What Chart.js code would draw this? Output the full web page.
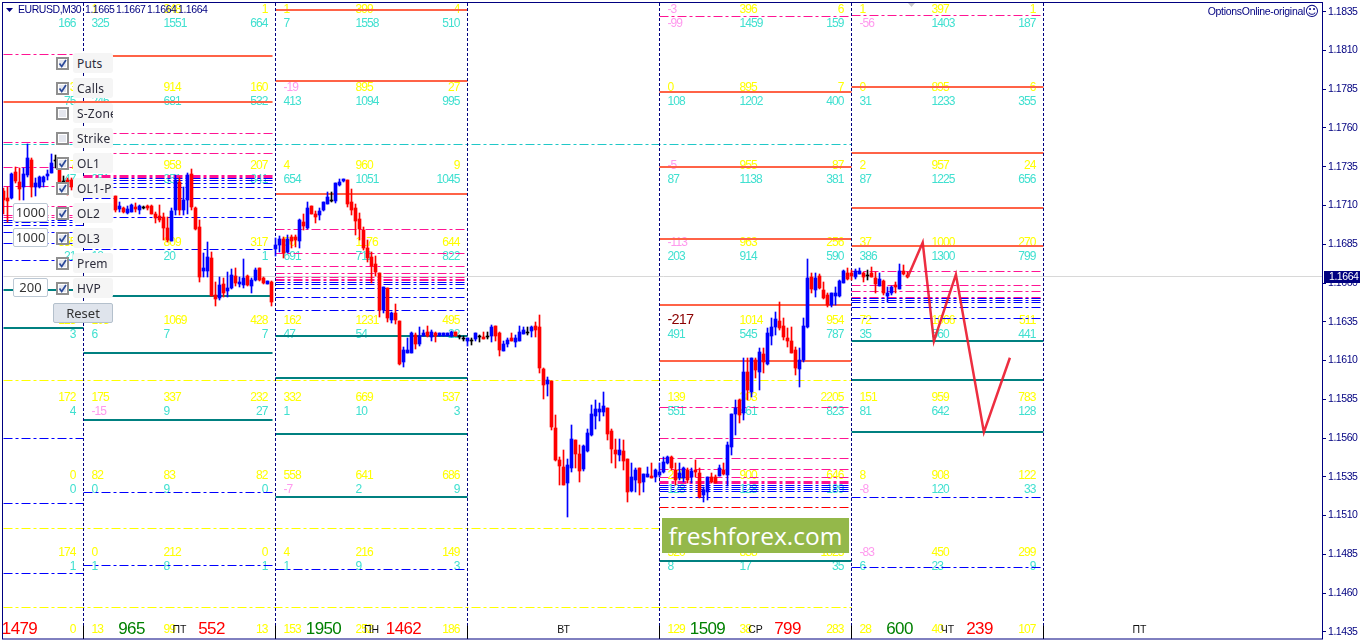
<!DOCTYPE html>
<html><head><meta charset="utf-8">
<script src="https://cdn.jsdelivr.net/npm/chart.js@4"></script>
<style>
html,body{margin:0;padding:0;background:#fff;overflow:hidden}
#wrap{position:relative;width:1364px;height:640px}
canvas{display:block;position:absolute;left:0;top:0}
.lab{position:absolute;left:73px;width:40px;height:20px;background:#f5f5f5;border-radius:3px;overflow:hidden;white-space:nowrap;font:12px "Noto Sans",sans-serif;color:#2b2b3a;line-height:21px;text-indent:4px;letter-spacing:.2px}
.chk{position:absolute;left:56px;width:9px;height:9px;border:2px solid #8f8f8f;background:#e4e6ee;box-shadow:inset 0 0 0 1px #fff}
.chk svg{position:absolute;left:0;top:0}
.inp{position:absolute;left:13px;width:33px;height:17px;border:1px solid #bcc8d4;border-radius:2px;background:#fff;font:13px "Noto Sans",sans-serif;color:#333;line-height:17px;text-align:center}
#reset{position:absolute;left:53px;top:303px;width:58px;height:18px;border:1px solid #b4c0cc;border-radius:2px;background:#dfe4ec;font:13px "Noto Sans",sans-serif;color:#333;line-height:18px;text-align:center}
#ff{position:absolute;left:662px;top:518px;width:187px;height:35px;background:#94b84a;color:#fff;font:24.5px "Open Sans",sans-serif;line-height:35px;text-align:center}
</style></head><body>
<div id="wrap"><canvas id="c" width="1364" height="640"></canvas><div id="panel"></div><div id="ff">freshforex.com</div></div>
<script>
// Prices are written as points above 1.00000 (17190 = 1.17190)
const firstBar=-20;
const opens=[17190,17145,17145,17313,17249,17216,17293,17390,17216,17216,17249,17287,17306,17390,17326,17255,17261,17261,
null,null,null,null,null,null,null,null,null,null,
17158,17074,17081,17048,17055,17087,17068,17087,17093,17093,17042,17029,17023,16952,16868,17068,17249,17068,17132,17300,17081,16958,16674,16674,16758,16519,16500,16590,16545,16565,16642,16590,16584,16642,16577,16616,16694,16629,16590,16603,
16816,16842,16881,16797,16894,16894,16868,16990,16952,17093,17042,17035,17068,17106,17132,17126,17229,17255,17261,17119,17081,17010,16939,16823,16765,16720,16661,16423,16565,16358,16403,16352,16088,16145,16145,16261,16203,16255,16281,16249,16274,16255,16255,16255,16255,16281,16255,16242,
16223,16229,16236,16255,16249,16255,16255,16319,16274,16158,16203,16242,16216,16223,16268,16281,16287,16319,16313,16042,15945,15965,15662,15455,15410,15307,15403,15584,15494,15397,15513,15617,15739,15765,15765,15791,15642,15520,15488,15513,15462,15255,15326,15404,15313,15346,15352,15346,
15359,15378,15436,15474,15391,15339,15339,15391,15346,15391,15371,15230,15249,15346,15346,15352,15391,15359,15539,15752,15842,15758,16023,15894,16100,16023,16139,16074,16255,16313,16352,16319,16242,16223,16165,16042,16100,16313,16636,16552,16642,16552,16519,16455,16513,16513,16597,16661,
16661,16636,16655,16661,16649,16661,16629,16577,16610,16513,16532,16584,16558,16674,16649];
const closes=[17132,17126,17300,17255,17203,17300,17403,17216,17242,17281,17281,17300,17371,17390,17249,17255,17235,17216,
null,null,null,null,null,null,null,null,null,null,
17068,17093,17055,17074,17100,17074,17093,17087,17081,17042,17016,17003,16952,16874,17061,17261,17068,17132,17293,17087,16945,16636,16694,16765,16513,16494,16584,16532,16565,16649,16597,16603,16629,16584,16616,16681,16616,16597,16610,16474,
16842,16881,16790,16881,16868,16874,17003,16965,17081,17042,17023,17061,17119,17152,17132,17242,17249,17268,17106,17068,16997,16945,16823,16758,16707,16668,16423,16571,16371,16403,16358,16074,16165,16165,16274,16203,16255,16274,16255,16281,16255,16274,16274,16274,16281,16255,16255,16242,
16242,16229,16274,16255,16236,16255,16313,16255,16165,16203,16229,16223,16242,16281,16294,16281,16313,16294,16049,15939,15971,15668,15455,15416,15294,15423,15590,15494,15384,15546,15630,15752,15784,15784,15804,15623,15526,15494,15520,15449,15249,15346,15391,15307,15365,15365,15339,15391,
15378,15442,15474,15404,15326,15371,15404,15326,15384,15378,15217,15262,15346,15313,15307,15404,15365,15552,15752,15791,15745,16023,15907,16113,16036,16152,16088,16274,16313,16365,16306,16249,16223,16145,16049,16100,16319,16629,16558,16629,16565,16500,16455,16532,16532,16610,16674,16623,
16642,16674,16674,16636,16649,16636,16590,16623,16532,16532,16571,16571,16674,16655,16636];
const highs=[17210,17216,17306,17345,17339,17339,17493,17403,17274,17287,17287,17326,17429,17423,17339,17287,17274,17274,
null,null,null,null,null,null,null,null,null,null,
17158,17119,17087,17093,17106,17113,17100,17093,17100,17100,17055,17100,17048,17023,17081,17293,17281,17216,17306,17332,17087,17003,16790,16861,16797,16603,16636,16629,16668,16687,16694,16636,16752,16649,16629,16694,16694,16636,16610,16610,
16887,16900,16894,16907,16907,16907,17010,17042,17119,17093,17061,17081,17119,17184,17184,17242,17268,17268,17261,17203,17106,17048,16958,16874,16797,16771,16661,16571,16565,16410,16461,16352,16184,16242,16281,16274,16313,16294,16319,16294,16281,16274,16274,16274,16287,16281,16261,16255,
16242,16242,16274,16261,16281,16281,16326,16319,16281,16223,16242,16274,16261,16319,16313,16313,16319,16345,16390,16049,15990,15965,15745,15474,15520,15462,15681,15584,15552,15552,15655,15810,15842,15823,15894,15791,15655,15591,15591,15584,15462,15436,15404,15404,15365,15410,15436,15397,
15436,15474,15481,15481,15436,15436,15410,15404,15404,15455,15404,15281,15346,15371,15359,15423,15436,15571,15752,15842,15849,16113,16113,16113,16113,16178,16178,16306,16371,16410,16474,16371,16306,16313,16184,16178,16371,16752,16661,16661,16655,16603,16532,16532,16571,16616,16681,16694,
16681,16687,16694,16668,16681,16700,16668,16661,16616,16571,16577,16603,16719,16713,16668];
const lows=[17042,16990,17139,17242,17132,17132,17281,17152,17158,17210,17216,17261,17306,17339,17223,17223,17165,17197,
null,null,null,null,null,null,null,null,null,null,
17055,17055,17048,17042,17055,17055,17042,17074,17068,17042,16984,16990,16874,16861,16868,17035,17035,17035,17042,17068,16939,16603,16636,16636,16513,16448,16487,16506,16506,16558,16577,16571,16565,16577,16532,16610,16610,16590,16590,16448,
16771,16797,16758,16790,16823,16829,16823,16939,16945,17042,16984,17003,17061,17106,17119,17113,17223,17249,17087,17035,16907,16874,16810,16732,16597,16642,16377,16403,16345,16339,16332,16068,16055,16145,16145,16171,16190,16255,16249,16223,16216,16255,16255,16255,16249,16255,16236,16223,
16190,16197,16223,16216,16236,16236,16216,16223,16126,16158,16184,16223,16184,16223,16268,16261,16249,16249,16016,15849,15868,15649,15449,15294,15294,15088,15378,15403,15313,15384,15507,15610,15655,15707,15739,15584,15436,15403,15449,15391,15184,15249,15249,15230,15249,15346,15339,15313,
15346,15371,15429,15391,15294,15326,15313,15307,15307,15346,15210,15184,15197,15307,15307,15352,15359,15288,15488,15617,15694,15713,15842,15861,15984,15907,16016,16068,16197,16261,16294,16229,16184,16145,16003,15926,16088,16306,16532,16506,16558,16494,16442,16442,16455,16506,16597,16616,
16616,16623,16655,16603,16616,16636,16532,16577,16519,16474,16519,16532,16558,16649,16629];

const dayStartBars=[-48,0,48,96,144,192,240];
const dayNames=["","ПТ","ПН","ВТ","СР","ЧТ","ПТ"];
const weekBottomYellow=[["","","0"],["13","99","13"],["153","252","186"],null,["129","38","283"],["28","40","107"],null];
const greenTotals=["","965","1950","","1509","600",""];
const redTotals=["1479","552","1462","","799","239",""];

const orangeLevels=[[0,17767],[1,18064],[1,17767],[2,18361],[2,17903],[2,17174],[4,17832],[4,17348],[4,16883],[4,16458],[4,16097],[5,17864],[5,17438],[5,17083],[5,16838]];
const tealLevels=[[0,16555],[0,16309],[1,16518],[1,16148],[1,15716],[2,16258],[2,15990],[2,15626],[2,15219],[4,14807],[5,16226],[5,15974],[5,15639]];
const pinkLevels=[[0,18074],[0,17509],[0,17345],[0,17222],[0,17093],[0,17035],[0,17022],[1,17564],[1,17435],[1,17293],[1,17287],[1,17280],[2,16942],[2,16790],[2,16708],[2,16661],[2,16637],[2,16622],[2,16616],[4,18317],[4,15800],[4,15600],[4,15471],[4,15400],[4,15348],[4,15319],[4,15313],[4,15307],[5,18328],[5,16671],[5,16587],[5,16542],[5,16508],[5,16502]];
const blueLevels=[[0,17003],[0,16990],[0,16971],[0,16926],[0,16855],[0,16745],[0,15597],[0,15178],[0,14726],[1,17274],[1,17261],[1,17242],[1,17213],[1,17145],[1,17022],[1,16816],[1,15249],[1,14775],[2,16603],[2,16590],[2,16564],[2,16508],[2,16422],[2,14755],[4,15294],[4,15281],[4,15268],[4,15255],[4,15219],[5,16497],[5,16487],[5,16474],[5,16442],[5,16368],[5,15215],[5,14762]];
const redLevels=[[4,15149]];
const yellowLongLevels=[[192,15968],[144,15016],[192,14507]];
const cyanLongLevels=[[192,17496]];
const currentPrice=16640;
const dayLineBars=[0,48,96,144,192,240];
const forecastBars=[206.1,209.8,212.6,218.1,225.1,231.6];
const forecastPrices=[16640,16861,16225,16655,15638,16118];

const strikes=[1.1835,1.1785,1.1735,1.1685,1.1635,1.1585,1.1535,1.1485];
const tickValues=[1.1835,1.1810,1.1785,1.1760,1.1735,1.1710,1.1685,1.1660,1.1635,1.1610,1.1585,1.1560,1.1535,1.1510,1.1485,1.1460,1.1435];

const yellowD0=[["","",""],["","","3"],["","","7"],["","","355"],["","","125"],["","","172"],["","","0"],["","","174"]];
const cyanD0=[["","","166"],["","","75"],["","","47"],["","","21"],["","","3"],["","","4"],["","","0"],["","","1"]];
const yellowD1=[["1","348","1"],["3","914","160"],["7","958","207"],["105","809","317"],["105","1069","428"],["175","337","232"],["82","83","82"],["0","212","0"]];
const cyanD1=[["325","1551","664"],["246","681","532"],["351","351","841"],["18","20","1"],["6","7","7"],["-15","9","27"],["0","9","0"],["1","8","1"]];
const yellowD2=[["1","399","4"],["-19","895","27"],["4","960","9"],["50","1176","644"],["162","1231","495"],["332","669","537"],["558","641","686"],["4","216","149"]];
const cyanD2=[["7","1558","510"],["413","1094","995"],["654","1051","1045"],["691","711","822"],["47","54","22"],["1","10","3"],["-7","2","9"],["1","9","3"]];
const yellowD4=[["-3","396","6"],["0","895","7"],["-5","955","87"],["-113","963","256"],["","1014","954"],["139","303","2205"],["258","900","646"],["320","838","1823"]];
const cyanD4=[["-99","1459","159"],["108","1202","400"],["87","1138","381"],["203","914","590"],["491","545","787"],["551","461","823"],["128","128","189"],["8","17","35"]];
const yellowD5=[["1","397","1"],["0","895","6"],["2","957","24"],["37","1000","270"],["72","1066","511"],["151","959","783"],["8","908","122"],["-83","450","299"]];
const cyanD5=[["-56","1403","187"],["31","1233","355"],["87","1225","656"],["386","1300","799"],["35","560","441"],["81","642","128"],["-8","120","33"],["6","23","9"]];
const panelNames=["Puts","Calls","S-Zone","Strike","OL1","OL1-P","OL2","OL3","Prem","HVP"];
const panelChecked=[1,1,0,0,1,1,1,1,1,1];
const panelInputs=["1000","1000","200"];
const headerText=["EURUSD,M30","1.1665","1.1667","1.1664","1.1664"];

const P=v=>1+v/1e5;
const NAVY="#000080";

const panel=document.getElementById("panel");
let html="";
panelNames.forEach((n,i)=>{
  const top=53+25*i;
  html+=`<div class="chk" style="top:${top+4}px">${panelChecked[i]?'<svg width="9" height="9"><path d="M1.5 4.5 L3.7 7.5 L8 1" stroke="#2c4a9a" stroke-width="1.7" fill="none"/></svg>':''}</div><div class="lab" style="top:${top}px">${n}</div>`;
});
[203,228,278].forEach((t,i)=>{html+=`<div class="inp" style="top:${t}px">${panelInputs[i]}</div>`});
html+='<div id="reset">Reset</div>';
panel.innerHTML=html;

const bars=[],wicks=[],cols=[];
opens.forEach((o,i)=>{
  if(o===null)return;
  const x=firstBar+i,c=closes[i];
  bars.push({x,y:[P(o),P(c)]});
  wicks.push({x,y:[P(lows[i]),P(highs[i])]});
  cols.push(c>o?"#0000ff":c<o?"#ff0000":"#000000");
});
function segs(levels,trim){
  const out=[];
  levels.forEach(([d,v])=>{
    const s=Math.max(dayStartBars[d],firstBar);
    const e=dayStartBars[d]+((trim&&d===1)?47.25:48);
    out.push({x:s,y:P(v)},{x:e,y:P(v)},{x:e,y:null});
  });
  return out;
}
function longSegs(levels){
  const out=[];
  levels.forEach(([e,v])=>out.push({x:firstBar,y:P(v)},{x:e,y:P(v)},{x:e,y:null}));
  return out;
}
const lineDs=(data,color,width,dash,snap,order)=>({type:"line",data,borderColor:color,borderWidth:width,borderDash:dash,pointRadius:0,spanGaps:false,tension:0,snap,order,borderCapStyle:"butt",borderJoinStyle:"miter"});
const DD=[9,3,3,3];
const yMax=1.18406,yMin=1.143038;
const vertData=[],vertSolid=[];
dayLineBars.forEach(b=>{
  vertData.push({x:b,y:yMax},{x:b,y:P(14391)},{x:b,y:null});
  vertSolid.push({x:b,y:P(14391)},{x:b,y:yMin},{x:b,y:null});
});

const textPlugin={id:"texts",
 beforeDatasetsDraw(ch){
  const ctx=ch.ctx,xs=ch.scales.x,ys=ch.scales.y;
  ctx.save();
  ctx.beginPath();ctx.rect(3,3,1319,636);ctx.clip();
  ctx.textBaseline="middle";
  const put=(t,b,off,y,col,align)=>{
    if(!t)return;
    ctx.fillStyle=t[0]==="-"?"#ff99ee":col;
    ctx.textAlign=align;
    ctx.fillText(t,xs.getPixelForValue(b+off),y);
  };
  ctx.font='12px "Liberation Sans",sans-serif';
  ctx.letterSpacing="-0.9px";
  [[0,yellowD0,cyanD0],[1,yellowD1,cyanD1],[2,yellowD2,cyanD2],[4,yellowD4,cyanD4],[5,yellowD5,cyanD5]].forEach(([d,yl,cy])=>{
    const b=dayStartBars[d];
    strikes.forEach((s,r)=>{
      const py=ys.getPixelForValue(s);
      [yl[r],cy[r]].forEach((row,ri)=>{
        const y=py+(ri?12.5:-1.5),col=ri?"#40e0d0":"#ffff00";
        put(row[0],b,2,y,col,"left");
        put(row[1],b,20,y,col,"left");
        put(row[2],b,46,y,col,"right");
      });
    });
  });
  const by=630;
  weekBottomYellow.forEach((row,d)=>{
    if(!row)return;
    const b=dayStartBars[d];
    put(row[0],b,2,by,"#ffff00","left");
    put(row[1],b,20,by,"#ffff00","left");
    put(row[2],b,46,by,"#ffff00","right");
  });
  ctx.font='17px "Liberation Sans",sans-serif';
  ctx.letterSpacing="-0.6px";
  dayStartBars.forEach((b,d)=>{
    put(greenTotals[d],b,12,629,"#008000","center");
    put(redTotals[d],b,32,629,"#ff0000","center");
  });
  ctx.letterSpacing="0px";
  ctx.font='10.5px "Liberation Sans",sans-serif';
  dayStartBars.forEach((b,d)=>put(dayNames[d],b,24,630,"#111111","center"));
  ctx.font='14.5px "Liberation Sans",sans-serif';
  ctx.letterSpacing="-0.8px";
  ctx.fillStyle="#8b0000";ctx.textAlign="left";
  ctx.fillText("-217",xs.getPixelForValue(144+2),319.5);
  ctx.letterSpacing="0px";
  ctx.restore();
  // pixel snap of marks produced by the library
  ch.data.datasets.forEach((ds,i)=>{
    const m=ch.getDatasetMeta(i);
    if(ds.snap==="bar"){
      m.data.forEach(el=>{
        const t=Math.floor(Math.min(el.y,el.base));
        let bt=Math.floor(Math.max(el.y,el.base));
        if(bt<=t)bt=t+1;
        el.y=t;el.base=bt;el.height=bt-t;
      });
    }else if(ds.snap==="thin"){
      m.data.forEach(p=>{if(!p.skip)p.y=Math.floor(p.y)+.5});
    }else if(ds.snap==="thick"){
      m.data.forEach(p=>{if(!p.skip)p.y=Math.round(p.y)});
    }
  });
 },
 afterDatasetsDraw(ch){
  const ctx=ch.ctx;
  ctx.save();
  ctx.textBaseline="middle";ctx.textAlign="left";
  ctx.fillStyle=NAVY;
  ctx.beginPath();ctx.moveTo(6,8);ctx.lineTo(13,8);ctx.lineTo(9.5,12);ctx.closePath();ctx.fill();
  ctx.font='10.5px "Liberation Sans",sans-serif';
  ctx.letterSpacing="-0.45px";
  ctx.fillText(headerText[0],18,10.5);
  let hx=85;
  headerText.slice(1).forEach(t=>{ctx.fillText(t,hx,10.5);hx+=31});
  ctx.textAlign="right";
  ctx.font='10.5px "Liberation Sans",sans-serif';
  ctx.letterSpacing="-0.3px";
  ctx.fillText("OptionsOnline-original",1305,12);
  ctx.letterSpacing="0px";
  ctx.textAlign="center";
  ctx.font='14px "DejaVu Sans",sans-serif';
  ctx.fillText("\u263A",1312,12);
  ctx.fillStyle="#c8c8c8";
  ctx.beginPath();ctx.moveTo(908,3);ctx.lineTo(915,3);ctx.lineTo(911.5,7);ctx.closePath();ctx.fill();
  // frame
  ctx.strokeStyle=NAVY;ctx.lineWidth=1;
  ctx.strokeRect(2.5,2.5,1320,636.5);
  // current price tag
  ctx.fillStyle=NAVY;ctx.fillRect(1324,271,36,12);
  ctx.fillStyle="#fff";ctx.textAlign="left";
  ctx.font='10.5px "Liberation Sans",sans-serif';
  ctx.letterSpacing="-0.45px";
  ctx.fillText(P(currentPrice).toFixed(4),1329,277);
  ctx.restore();
 }
};
const applySpacing={id:"sp",beforeDraw(ch){ch.ctx.letterSpacing="-0.45px"},beforeDatasetsDraw(ch){ch.ctx.letterSpacing="0px"}};

new Chart(document.getElementById("c"),{
 type:"bar",
 data:{datasets:[
  lineDs([{x:firstBar,y:P(currentPrice)},{x:310,y:P(currentPrice)}],"#d8d8d8",1,[], "thin",30),
  lineDs(longSegs(yellowLongLevels),"#ffff00",1,DD,"thin",29),
  lineDs(longSegs(cyanLongLevels),"#20c8c8",1,DD,"thin",29),
  lineDs(segs(pinkLevels),"#ff1493",1,DD,"thin",28),
  lineDs(segs(blueLevels),"#0000ff",1,DD,"thin",27),
  lineDs(segs(redLevels),"#ff0000",1,DD,"thin",27),
  lineDs(segs(orangeLevels,true),"#ff6347",2,[],"thick",26),
  lineDs(segs(tealLevels,true),"#008080",2,[],"thick",26),
  lineDs(vertData,NAVY,1,[3,2],null,25),
  lineDs(vertSolid,"#000000",1,[],null,25),
  {type:"bar",data:wicks,backgroundColor:cols,barThickness:1,grouped:false,borderWidth:0,snap:"bar",order:3},
  {type:"bar",data:bars,backgroundColor:cols,barThickness:3,grouped:false,borderWidth:0,snap:"bar",order:2},
  {type:"line",data:forecastBars.map((b,i)=>({x:b,y:P(forecastPrices[i])})),borderColor:"rgba(236,28,48,.92)",borderWidth:2.5,pointRadius:0,tension:0,order:1}
 ]},
 options:{responsive:false,animation:false,events:[],
  layout:{padding:{left:3,top:3,right:0,bottom:1}},
  plugins:{legend:{display:false},tooltip:{enabled:false}},
  scales:{
   x:{type:"linear",display:false,offset:false,min:-20.125,max:309.625,grid:{display:false}},
   y:{type:"linear",position:"right",min:yMin,max:yMax,
      afterFit(s){s.width=42;s.paddingTop=0;s.paddingBottom=0},
      afterBuildTicks(s){s.ticks=tickValues.map(v=>({value:v}))},
      border:{display:false},
      grid:{drawOnChartArea:false,drawTicks:true,tickLength:4,color:NAVY},
      ticks:{autoSkip:false,padding:2,color:NAVY,font:{family:'"Liberation Sans",sans-serif',size:10.5},callback:v=>v.toFixed(4)}}
  }
 },
 plugins:[applySpacing,textPlugin]
});
</script></body></html>
